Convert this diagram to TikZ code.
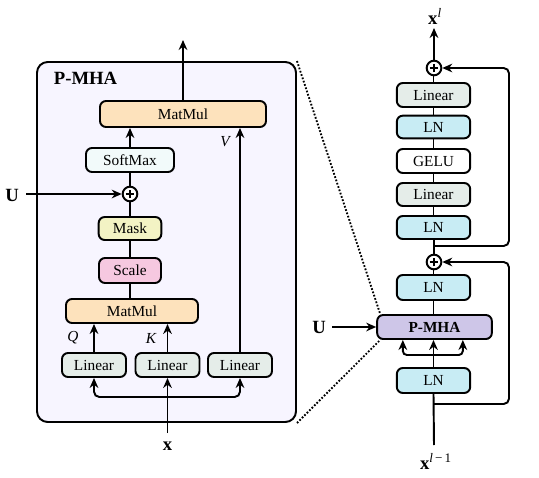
\documentclass[tikz,border=0pt]{standalone}
\usepackage{fontspec}
\setmainfont{Liberation Serif}
\usetikzlibrary{arrows.meta}

\definecolor{panelbg}{RGB}{247,245,255}
\definecolor{mmcol}{RGB}{253,226,188}
\definecolor{smcol}{RGB}{242,250,250}
\definecolor{maskcol}{RGB}{243,243,196}
\definecolor{scalecol}{RGB}{246,200,224}
\definecolor{lincol}{RGB}{229,237,233}
\definecolor{lncol}{RGB}{200,236,244}
\definecolor{pmhacol}{RGB}{206,198,232}

\tikzset{every picture/.style={line width=1.45pt}}
\tikzset{
  blk/.style={draw, rounded corners=4.5pt, inner sep=0pt, minimum height=18pt,
    font=\fontsize{11.5}{13}\selectfont},
  addop/.style={draw, circle, fill=white, minimum size=11pt, inner sep=0pt,
    path picture={
      \draw ([xshift=-3.2pt]path picture bounding box.center) -- ([xshift=3.2pt]path picture bounding box.center);
      \draw ([yshift=-3.2pt]path picture bounding box.center) -- ([yshift=3.2pt]path picture bounding box.center);}},
  arr/.style={-{Stealth[length=7.5pt,width=6.5pt]}},
  lbl/.style={inner sep=0.75pt, font=\fontsize{14}{16}\selectfont\bfseries},
  qkv/.style={inner sep=0.75pt, font=\fontsize{11.5}{13}\selectfont\itshape},
}

\begin{document}
\begin{tikzpicture}[x=0.75pt,y=0.75pt,yscale=-1,xscale=1]
\useasboundingbox (0,0) rectangle (539,478);

%Shape: P-MHA panel
\node (panel) [draw, rounded corners=8pt, fill=panelbg, minimum width=194.25pt, minimum height=270pt] at (166.5,242) {};
% Text Node
\node (ttl) [anchor=west, lbl] at (52,78) {P-MHA};

%Left blocks
\node (mm2) [blk, fill=mmcol, minimum width=124.5pt, minimum height=19.5pt] at (183,114) {MatMul};
\node (soft) [blk, fill=smcol, minimum width=66pt] at (130,160) {SoftMax};
\node (plusA) [addop] at (130,194) {};
\node (mask) [blk, fill=maskcol, minimum width=47pt, minimum height=17.25pt] at (130,228.5) {Mask};
\node (scale) [blk, fill=scalecol, minimum width=46.5pt, minimum height=18.75pt] at (130,270.5) {Scale};
\node (mm1) [blk, fill=mmcol, minimum width=99pt] at (132,311) {MatMul};
\node (lin1) [blk, fill=lincol, minimum width=48pt] at (94,365) {Linear};
\node (lin2) [blk, fill=lincol, minimum width=48pt] at (167.5,365) {Linear};
\node (lin3) [blk, fill=lincol, minimum width=48pt] at (240,365) {Linear};

% Text Node
\node (lq) [qkv] at (73,338) {Q};
\node (lk) [qkv] at (151,338) {K};
\node (lv) [qkv] at (225,142) {V};
\node (uA) [lbl] at (12,195) {U};
\node (xA) [lbl] at (167.5,446) {x};

\coordinate (outA) at (183,40);
\coordinate (uAs) at (26,194);
\coordinate (forkA) at (167.5,397);
\coordinate (xAs) at (167.5,433);

%Left connectors
\draw [arr] (mm2.north) -- (outA);
\draw [arr] (soft.north) -- (soft.north |- mm2.south);
\draw (plusA.north) -- (soft.south);
\draw (mask.north) -- (plusA.south);
\draw (scale.north) -- (mask.south);
\draw (scale.south |- mm1.north) -- (scale.south);
\draw [arr] (lin1.north) -- (lin1.north |- mm1.south);
\draw [arr] (lin2.north) -- (lin2.north |- mm1.south);
\draw [arr] (lin3.north) -- (lin3.north |- mm2.south);
\draw [arr] (uAs) -- (plusA.west);
\draw [arr] (xAs) -- (lin2.south);
\draw [arr, rounded corners=4pt] (forkA) -| (lin1.south);
\draw [arr, rounded corners=4pt] (forkA) -| (lin3.south);

%Right blocks
\node (plusB) [addop] at (434,68) {};
\node (rlin2) [blk, fill=lincol, minimum width=55pt] at (433.5,95) {Linear};
\node (rln2) [blk, fill=lncol, minimum width=55pt, minimum height=17pt] at (433.5,127) {LN};
\node (gelu) [blk, fill=white, minimum width=55pt] at (433.5,161) {GELU};
\node (rlin1) [blk, fill=lincol, minimum width=55pt, minimum height=17.25pt] at (433.5,194.5) {Linear};
\node (rln1) [blk, fill=lncol, minimum width=55pt, minimum height=17.25pt] at (433.5,227.5) {LN};
\node (plusC) [addop] at (434,262) {};
\node (rln0) [blk, fill=lncol, minimum width=55pt, minimum height=18.75pt] at (433.5,287.5) {LN};
\node (pmha) [blk, fill=pmhacol, minimum width=86pt, font=\fontsize{11.5}{13}\selectfont\bfseries] at (434.5,327) {P-MHA};
\node (rlnin) [blk, fill=lncol, minimum width=55pt, minimum height=18.75pt] at (433.5,380.5) {LN};

% Text Node
\node (xl) [lbl] at (435,16) {x\textsuperscript{\mdseries\itshape l}};
\node (xlm) [lbl] at (436,461) {x\textsuperscript{\mdseries\itshape l\,\upshape −\,1}};
\node (uB) [lbl] at (319,327) {U};

\coordinate (outB) at (434,28);
\coordinate (res1) at (434,246);
\coordinate (resR1) at (509,150);
\coordinate (res2) at (434,404);
\coordinate (resR2) at (509,330);
\coordinate (xBs) at (434,445);
\coordinate (forkB) at (434,355);
\coordinate (uBs) at (332,327);

%Right connectors
\draw [arr] (plusB.north) -- (outB);
\draw (rlin2.north) -- (rlin2.north |- plusB.south);
\draw (rln2.north) -- (rlin2.south);
\draw (gelu.north) -- (rln2.south);
\draw (rlin1.north) -- (gelu.south);
\draw (rln1.north) -- (rlin1.south);
\draw (plusC.north) -- (plusC.north |- rln1.south);
\draw (rln0.north) -- (rln0.north |- plusC.south);
\draw (pmha.north -| rln0) -- (rln0.south);
\draw [arr] (rlnin.north) -- (rlnin.north |- pmha.south);
\draw [arr, rounded corners=3pt] (forkB) -| ([xshift=-23pt]pmha.south -| rlnin);
\draw [arr, rounded corners=3pt] (forkB) -| ([xshift=22pt]pmha.south -| rlnin);
\draw (xBs) -- (rlnin.south);
\draw [arr, rounded corners=4pt] (res1) -| (resR1) |- (plusB.east);
\draw [arr, rounded corners=4pt] (res2) -| (resR2) |- (plusC.east);
\draw [arr] (uBs) -- (pmha.west);

%Zoom lines
\draw [line width=1.4pt, dash pattern=on 1.3pt off 1.3pt] (panel.north east) -- ([xshift=3pt]pmha.north west);
\draw [line width=1.4pt, dash pattern=on 1.3pt off 1.3pt] (panel.south east) -- ([xshift=3pt]pmha.south west);

\end{tikzpicture}
\end{document}
